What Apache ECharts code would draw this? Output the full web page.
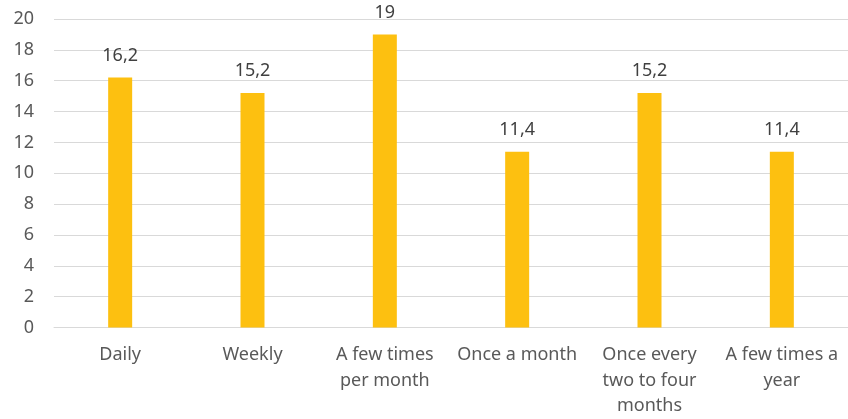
<!DOCTYPE html>
<html><head><meta charset="utf-8">
<script src="https://cdn.jsdelivr.net/npm/echarts@6/dist/echarts.min.js"></script>
<style>html,body{margin:0;padding:0;background:#fff}#c{width:848px;height:419px}</style>
</head><body><div id="c"></div>
<script>
const categories = ["Daily", "Weekly", "A few times\nper month", "Once a month", "Once every\ntwo to four\nmonths", "A few times a\nyear"];
const values = [16.2, 15.2, 19, 11.4, 15.2, 11.4];
const yTicks = {min: 0, max: 20, interval: 2};
const FONT = "Noto Sans";
const chart = echarts.init(document.getElementById('c'), null, {renderer: 'canvas'});
chart.setOption({
  animation: false,
  grid: {left: 54, top: 19, width: 800, height: 309, containLabel: false},
  xAxis: {
    type: 'category', data: categories,
    axisLine: {show: true, lineStyle: {color: '#d9d9d9', width: 1}},
    axisTick: {show: false},
    axisLabel: {color: '#595959', fontFamily: FONT, fontSize: 18, lineHeight: 25.5, margin: 15, interval: 0}
  },
  yAxis: {
    type: 'value', min: yTicks.min, max: yTicks.max, interval: yTicks.interval,
    axisLine: {show: false}, axisTick: {show: false},
    splitLine: {lineStyle: {color: '#d9d9d9', width: 1}},
    axisLabel: {color: '#595959', fontFamily: FONT, fontSize: 18, margin: 20}
  },
  series: [{
    type: 'bar', data: values, barWidth: 24,
    itemStyle: {color: '#FDC010'},
    label: {show: true, position: 'top', distance: 13, color: '#404040', fontFamily: FONT, fontSize: 18,
      formatter: p => String(p.value).replace('.', ',')}
  }]
});
</script></body></html>
